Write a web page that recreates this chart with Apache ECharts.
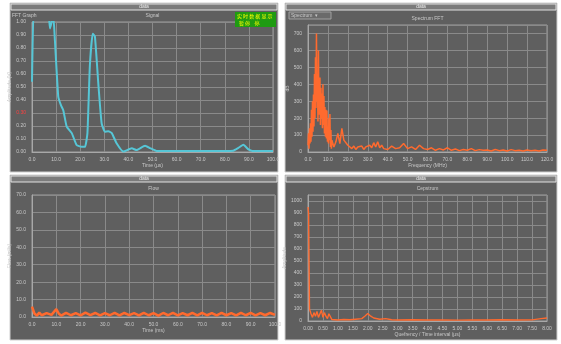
<!DOCTYPE html>
<html><head><meta charset="utf-8">
<script src="https://cdn.jsdelivr.net/npm/echarts@6/dist/echarts.min.js"></script>
<style>html,body{margin:0;padding:0;background:#fff}#c{width:561px;height:344px}</style>
</head><body><div id="c"></div>
<script>
// ---- Data ----
const sigX = [0, 0.6, 1.5, 4, 6.8, 7.5, 8.8, 9.5, 10.9, 12, 13, 14.4, 16.5, 18.5, 20.6, 22, 23, 24, 25.2, 26.1, 27.5, 28.9, 30.3, 31.7, 33.1, 35.1, 37.9, 41.4, 43.4, 46.9, 49, 51.7, 60, 70, 80, 83.5, 85.5, 87.7, 89.8, 91.5, 95, 100];
const sigY = [0.54, 1.05, 1.05, 1.05, 1.05, 0.95, 1.05, 0.86, 0.425, 0.36, 0.32, 0.195, 0.145, 0.054, 0.04, 0.04, 0.145, 0.66, 0.91, 0.89, 0.53, 0.22, 0.156, 0.16, 0.145, 0.067, 0.003, 0.028, 0.015, 0.048, 0.03, 0.008, 0.008, 0.008, 0.008, 0.01, 0.03, 0.055, 0.02, 0.008, 0.008, 0.008];

const fftX = [0,0.25,0.5,0.75,1,1.25,1.5,1.75,2,2.25,2.5,2.75,3,3.25,3.5,3.75,4,4.25,4.5,4.75,5,5.25,5.5,5.75,6,6.25,6.5,6.75,7,7.25,7.5,7.75,8,8.25,8.5,8.75,9,9.25,9.5,9.75,10,10.25,10.5,10.75,11,11.25,11.5,11.75,12,
  13,14,15,16,17,18,19,20,21,22,23,24,25,26,27,28,29,30,31,32,33,34,35,36,37,38,39,40,
  42,44,46,48,50,52,54,56,58,60,62,64,66,68,70,72,74,76,78,80,82,84,86,88,90,92,94,96,98,100,102,104,106,108,110,112,114,116,118,120];
const fftY = [40,110,20,140,50,170,60,250,90,300,120,340,150,460,200,560,260,700,300,420,180,600,220,310,440,160,380,200,345,140,400,160,330,110,265,90,250,80,245,60,150,50,200,70,225,30,130,20,70,
  30,60,110,50,140,70,80,40,50,20,35,15,30,20,35,15,30,20,40,25,55,30,60,25,40,20,30,15,
  35,20,25,50,20,30,15,40,20,15,25,10,20,12,25,10,18,8,15,10,20,8,14,10,12,6,15,8,12,6,14,8,10,6,12,8,10,6,12,10];

const flowX = [0,1,2,3,4,6,8,10,11,12,14,16,18,20,22,24,26,28,30,32,34,36,38,40,42,44,46,48,50,52,54,56,58,60,62,64,66,68,70,72,74,76,78,80,82,84,86,88,90,92,94,96,98,100];
const flowY = [6,2,0.8,2.5,1,2.2,1.2,4.5,2,0.8,2.4,1,2.2,0.9,2.5,1.1,2.3,0.9,2.2,1,2.4,0.9,2.3,1.1,2.2,0.9,2.4,1,2.2,0.8,2.3,1,2.4,0.9,2.2,1,2.3,0.9,2.4,1,2.2,0.9,2.3,1,2.2,0.9,2.4,1,2.3,0.9,2.2,1,2.3,1.2];

const cepX = [0,0.02,0.05,0.1,0.15,0.2,0.25,0.3,0.35,0.4,0.45,0.5,0.55,0.6,0.65,0.7,0.8,1.0,1.2,1.4,1.6,1.8,1.9,2.0,2.1,2.2,2.4,2.6,2.8,3.0,3.5,4.0,4.5,5.0,5.5,6.0,6.5,7.0,7.5,7.8,8.0];
const cepY = [950,900,100,60,30,70,40,80,30,60,90,30,70,40,20,60,12,8,12,10,15,20,40,62,40,25,15,20,10,8,10,8,9,7,9,8,10,8,9,20,25];

const xTicks = { sig:[0,100,10], fft:[0,120,10], flow:[0,100,10], cep:[0,8,0.5] };
const yTicks = { sig:[0,1,0.1], fft:[0,750,100], flow:[0,70,10], cep:[0,1050,100] };
const titles = ['Signal','Spectrum FFT','Flow','Cepstrum'];
const xNames = ['Time (µs)','Frequency (MHz)','Time (ms)','Quefrency / Time interval (µs)'];
const yNames = ['Amplitude (V)','dB','Flow (ml/s)','Amplitude'];
// ------------------------------------------

const FONT = 'Liberation Sans';
const labelC = '#c9c9c9', gridC = '#8a8a8a', bgC = '#5f5f5f';
const grids = [
  {left:32, top:22, width:241, height:130},
  {left:308, top:25, width:239, height:127},
  {left:32, top:195, width:243, height:122},
  {left:308, top:195, width:239, height:126}
];
const panels = [
  {x:10, y:3, w:268, h:169},
  {x:285, y:3, w:272, h:169},
  {x:10, y:175, w:268, h:165},
  {x:285, y:175, w:272, h:165}
];
const keys = ['sig','fft','flow','cep'];
const fmts = [
  {x:v=>v.toFixed(1), y:v=>v.toFixed(2)},
  {x:v=>v.toFixed(1), y:v=>v.toFixed(0)},
  {x:v=>v.toFixed(1), y:v=>v.toFixed(1)},
  {x:v=>v.toFixed(2), y:v=>v.toFixed(0)}
];
const showMax = [true, false, true, false];

const chart = echarts.init(document.getElementById('c'), null, {renderer:'canvas'});
const xAxis = [], yAxis = [], series = [], graphic = [];
keys.forEach((k,i)=>{
  const xt = xTicks[k], yt = yTicks[k];
  xAxis.push({type:'value', gridIndex:i, min:xt[0], max:xt[1], interval:xt[2],
    name:xNames[i], nameLocation:'middle', nameGap:10, nameTextStyle:{color:labelC, fontSize:5, fontFamily:FONT},
    axisLine:{lineStyle:{color:'#a8a8a8'}}, axisTick:{show:false},
    axisLabel:{fontSize:5, fontFamily:FONT, margin:5, formatter:fmts[i].x,
      color: (i===0) ? ((v)=> v===30 ? '#ff4040' : labelC) : labelC},
    splitLine:{show:true, lineStyle:{color:gridC, width:1}}});
  yAxis.push({type:'value', gridIndex:i, min:yt[0], max:yt[1], interval:yt[2],
    name:yNames[i], nameLocation:'middle', nameRotate:90, nameGap:16, nameTextStyle:{color:labelC, fontSize:5, fontFamily:FONT},
    axisLine:{show:true, lineStyle:{color:'#a8a8a8'}}, axisTick:{show:false},
    axisLabel:{fontSize:5, fontFamily:FONT, margin:6, formatter:fmts[i].y, showMaxLabel:showMax[i],
      color: (i===0) ? ((v)=> Math.abs(v-0.3)<1e-6 ? '#ff4040' : labelC) : labelC},
    splitLine:{show:true, lineStyle:{color:gridC, width:1}}});
});
const pair = (xs,ys)=>xs.map((x,j)=>[x,ys[j]]);
series.push({type:'line', xAxisIndex:0, yAxisIndex:0, data:pair(sigX,sigY), showSymbol:false, clip:true,
  lineStyle:{color:'#56c6d6', width:2}, smooth:0.15});
series.push({type:'line', xAxisIndex:1, yAxisIndex:1, data:pair(fftX,fftY), showSymbol:false, clip:true,
  lineStyle:{color:'#ff6a2e', width:1.5}});
series.push({type:'line', xAxisIndex:2, yAxisIndex:2, data:pair(flowX,flowY), showSymbol:false, clip:true,
  lineStyle:{color:'#ff6a2e', width:2.5}});
series.push({type:'line', xAxisIndex:3, yAxisIndex:3, data:pair(cepX,cepY), showSymbol:false, clip:true,
  lineStyle:{color:'#ff6a2e', width:1.4}});

panels.forEach((p,i)=>{
  graphic.push({type:'rect', z:-20, shape:{x:p.x, y:p.y, width:p.w, height:p.h}, style:{fill:bgC, stroke:'#cfcfcf', lineWidth:1}});
  graphic.push({type:'rect', z:-19, shape:{x:p.x+1, y:p.y+1, width:p.w-2, height:6}, style:{fill:'#7b7b7b', stroke:'#e2e2e2', lineWidth:1}});
  graphic.push({type:'text', z:-18, x:p.x+p.w/2, y:p.y+4, style:{text:'data', fill:'#eeeeee', fontSize:5, fontFamily:FONT, align:'center', verticalAlign:'middle'}});
  graphic.push({type:'text', z:-18, x:grids[i].left+grids[i].width/2, y:grids[i].top-6, style:{text:titles[i], fill:labelC, fontSize:5, fontFamily:FONT, align:'center', verticalAlign:'middle'}});
});
graphic.push({type:'text', z:-18, x:12, y:16, style:{text:'FFT Graph', fill:labelC, fontSize:5, fontFamily:FONT, verticalAlign:'middle'}});
graphic.push({type:'rect', z:-18, shape:{x:289, y:12, width:42, height:7}, style:{fill:'#6a6a6a', stroke:'#a0a0a0', lineWidth:1}});
graphic.push({type:'text', z:-17, x:291, y:15.5, style:{text:'Spectrum  ▾', fill:labelC, fontSize:5, fontFamily:FONT, verticalAlign:'middle'}});
graphic.push({type:'rect', z:10, shape:{x:235, y:12, width:41, height:15}, style:{fill:'#1f9b12'}});
graphic.push({type:'text', z:11, x:237, y:16, style:{text:'实 时 数 据 显 示', fill:'#ffff00', fontSize:5, fontFamily:'Noto Sans CJK SC', verticalAlign:'middle'}});
graphic.push({type:'text', z:11, x:239, y:23, style:{text:'暂 停    停', fill:'#ffff00', fontSize:5, fontFamily:'Noto Sans CJK SC', verticalAlign:'middle'}});

chart.setOption({
  backgroundColor:'#ffffff',
  animation:false,
  grid: grids.map(g=>Object.assign({show:true, backgroundColor:'transparent', borderColor:'#a0a0a0', borderWidth:1}, g)),
  xAxis, yAxis, series, graphic
});
</script></body></html>
